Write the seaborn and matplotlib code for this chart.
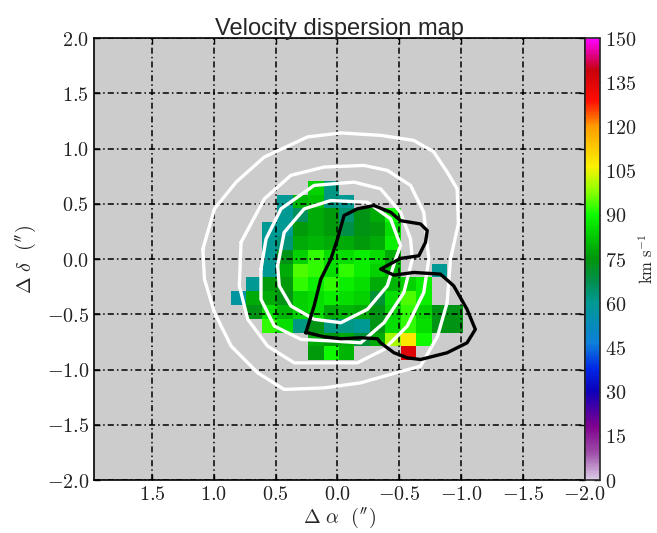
import numpy as np
import pandas as pd
import matplotlib
matplotlib.use("Agg")
import matplotlib.pyplot as plt
from matplotlib.colors import LinearSegmentedColormap
from matplotlib.ticker import FuncFormatter
import seaborn as sns

# Spaxel grid (arcsec offsets of pixel centres)
x_centers = [0.8, 0.675, 0.55, 0.425, 0.3, 0.175, 0.05, -0.075, -0.2,
             -0.325, -0.45, -0.575, -0.7, -0.825, -0.95]
y_centers = [0.647, 0.522, 0.397, 0.272, 0.147, 0.022, -0.103, -0.228,
             -0.353, -0.478, -0.603, -0.728, -0.853]
pixel_size = 0.125

n = np.nan
# Velocity dispersion per spaxel (km/s), rows top -> bottom, columns left -> right
sigma_rows = [
    [n,  n,  n,  n,  n,  84, 62, n,  n,  n,  n,   n,   n,  n,  n],
    [n,  n,  n,  60, 80, 82, 62, 60, n,  n,  n,   n,   n,  n,  n],
    [n,  n,  n,  60, 66, 78, 76, 64, 74, 78, 90,  n,   n,  n,  n],
    [n,  n,  60, 60, 76, 78, 76, 68, 74, 76, 86,  n,   n,  n,  n],
    [n,  n,  60, 63, 78, 80, 78, 78, 76, 78, 88,  n,   n,  n,  n],
    [n,  n,  60, 74, 84, 92, 86, 86, 88, 86, 78,  n,   n,  n,  n],
    [n,  n,  60, 78, 94, 92, 86, 92, 88, 84, 80,  n,   n,  60, n],
    [n,  60, 76, 76, 92, 88, 92, 88, 86, 78, 80,  84,  88, n,  n],
    [58, 78, 78, 74, 84, 86, 88, 86, 84, 70, 86,  94,  88, n,  n],
    [n,  74, 86, 80, 84, 86, 78, 80, 78, 74, 84,  92,  84, 74, 74],
    [n,  n,  92, 86, 62, 74, 62, 62, 60, 74, 86,  92,  86, 74, 74],
    [n,  n,  n,  n,  n,  78, 76, 78, 70, 78, 100, 108, 90, n,  n],
    [n,  n,  n,  n,  n,  76, 90, 80, n,  n,  n,   135, n,  n,  n],
]

# Flux contours (white) and the second component (black), arcsec
flux_outer_x = [1.089, 1.076, 0.995, 0.860, 0.645, 0.431, 0.108, -0.188, -0.51, -0.671,
                -0.809, -0.887, -0.914, -0.978, -0.968, -0.887, -0.777, -0.615, -0.349,
                -0.027, 0.242, 0.592, 0.82, 0.995, 1.089]
flux_outer_y = [0.091, -0.182, -0.485, -0.788, -1.03, -1.18, -1.166, -1.12, -1.018, -0.97,
                -0.70, -0.394, 0.0, 0.318, 0.636, 0.788, 0.973, 1.075, 1.12,
                1.142, 1.106, 0.924, 0.697, 0.455, 0.091]

flux_mid_x = [0.78, 0.794, 0.726, 0.565, 0.35, 0.081, -0.161, -0.376, -0.565, -0.698,
              -0.739, -0.698, -0.591, -0.403, -0.215, 0.108, 0.377, 0.592, 0.78]
flux_mid_y = [0.152, -0.242, -0.545, -0.788, -0.939, -0.939, -0.939, -0.818, -0.606, -0.303,
              0.0, 0.424, 0.667, 0.803, 0.848, 0.833, 0.758, 0.545, 0.152]

flux_inner_x = [0.619, 0.619, 0.511, 0.296, 0.027, -0.188, -0.376, -0.537, -0.605,
                -0.591, -0.51, -0.349, -0.134, 0.189, 0.457, 0.578, 0.619]
flux_inner_y = [-0.091, -0.364, -0.606, -0.727, -0.742, -0.758, -0.576, -0.303, 0.0,
                0.182, 0.424, 0.636, 0.697, 0.667, 0.455, 0.182, -0.091]

flux_core_x = [0.484, 0.471, 0.377, 0.189, -0.027, -0.242, -0.403, -0.47, -0.51,
               -0.43, -0.242, 0.054, 0.269, 0.431, 0.484]
flux_core_y = [-0.061, -0.242, -0.424, -0.545, -0.576, -0.455, -0.242, 0.0, 0.121,
               0.364, 0.515, 0.530, 0.455, 0.242, -0.061]

second_x = [0.256, 0.189, 0.135, 0.054, 0.0, -0.053, -0.161, -0.295, -0.43, -0.51,
            -0.672, -0.726, -0.712, -0.658, -0.51, -0.349, -0.457, -0.618, -0.833,
            -0.94, -1.048, -1.115, -1.048, -0.887, -0.672, -0.565, -0.457, -0.349,
            -0.323, -0.188, -0.027, 0.108, 0.242, 0.256]
second_y = [-0.667, -0.424, -0.182, 0.0, 0.182, 0.394, 0.455, 0.485, 0.424, 0.348,
            0.318, 0.258, 0.152, 0.03, 0.006, -0.091, -0.145, -0.121, -0.136,
            -0.242, -0.455, -0.636, -0.758, -0.848, -0.909, -0.894, -0.848, -0.758,
            -0.721, -0.712, -0.721, -0.703, -0.667, -0.667]

x_ticks = [1.5, 1.0, 0.5, 0.0, -0.5, -1.0, -1.5, -2.0]
y_ticks = [-2.0, -1.5, -1.0, -0.5, 0.0, 0.5, 1.0, 1.5, 2.0]
cbar_ticks = [0, 15, 30, 45, 60, 75, 90, 105, 120, 135, 150]

sns.set_style("ticks")
plt.rcParams["font.family"] = ["Liberation Sans", "DejaVu Sans"]
plt.rcParams["mathtext.fontset"] = "cm"

cmap = LinearSegmentedColormap.from_list("sigma", [
    (0.00, (0.86, 0.80, 0.90)),
    (0.06, (0.62, 0.30, 0.66)),
    (0.12, (0.50, 0.00, 0.56)),
    (0.20, (0.05, 0.00, 0.72)),
    (0.25, (0.00, 0.15, 0.90)),
    (0.31, (0.05, 0.50, 0.85)),
    (0.40, (0.00, 0.60, 0.58)),
    (0.45, (0.00, 0.56, 0.30)),
    (0.50, (0.00, 0.58, 0.05)),
    (0.55, (0.00, 0.78, 0.00)),
    (0.60, (0.05, 0.98, 0.00)),
    (0.66, (0.60, 1.00, 0.00)),
    (0.71, (0.98, 0.95, 0.00)),
    (0.80, (1.00, 0.62, 0.00)),
    (0.86, (1.00, 0.05, 0.00)),
    (0.93, (0.78, 0.00, 0.05)),
    (0.97, (0.90, 0.00, 0.60)),
    (1.00, (1.00, 0.00, 1.00)),
])

fig = plt.figure(figsize=(6.57, 5.33), dpi=100)
ax = fig.add_axes([0.143, 0.0994, 0.747, 0.829])
cax = fig.add_axes([0.890, 0.0994, 0.023, 0.829])

ax.set_facecolor("#cccccc")

xc = np.array(x_centers)
yc = np.array(y_centers)
x_edges = np.concatenate([xc + pixel_size / 2, [xc[-1] - pixel_size / 2]])
y_edges = np.concatenate([yc + pixel_size / 2, [yc[-1] - pixel_size / 2]])
sigma = np.ma.masked_invalid(np.array(sigma_rows, dtype=float))
mesh = ax.pcolormesh(x_edges, y_edges, sigma, cmap=cmap, vmin=0, vmax=150,
                     shading="flat", zorder=1)

contours = [
    (flux_outer_x, flux_outer_y, "white"),
    (flux_mid_x, flux_mid_y, "white"),
    (flux_inner_x, flux_inner_y, "white"),
    (flux_core_x, flux_core_y, "white"),
    (second_x, second_y, "black"),
]
for cx, cy, col in contours:
    df = pd.DataFrame({"x": cx, "y": cy})
    sns.lineplot(data=df, x="x", y="y", sort=False, estimator=None, color=col,
                 linewidth=2.4, ax=ax, zorder=3)

ax.set_xlim(1.97, -2.0)
ax.set_ylim(-2.0, 2.0)
ax.set_xticks(x_ticks)
ax.set_yticks(y_ticks)
fmt = FuncFormatter(lambda v, _: r"$%.1f$" % v)
ax.xaxis.set_major_formatter(fmt)
ax.yaxis.set_major_formatter(fmt)
ax.tick_params(direction="in", length=4, width=1, colors="black", labelsize=14.5,
               top=True, right=True, labelcolor="#222222")
ax.grid(True, color="black", linestyle=(0, (4, 2, 1, 2)), linewidth=1.1, zorder=2)
ax.set_axisbelow(False)
for s in ax.spines.values():
    s.set_linewidth(1.2)
    s.set_color("black")

ax.set_xlabel(r"$\Delta\ \alpha\ \ (^{\prime\prime})$", fontsize=14.5, labelpad=1)
ax.set_ylabel(r"$\Delta\ \delta\ \ (^{\prime\prime})$", fontsize=14.5, labelpad=6)
ax.set_title("Velocity dispersion map", fontsize=17, pad=2)

cb = fig.colorbar(mesh, cax=cax, ticks=cbar_ticks)
cb.ax.tick_params(direction="in", length=4, width=1, labelsize=14.5, labelcolor="#222222")
cb.ax.yaxis.set_major_formatter(FuncFormatter(lambda v, _: r"$%d$" % v))
cb.outline.set_linewidth(1.2)
cb.set_label(r"$\mathrm{km\ s^{-1}}$", fontsize=12, rotation=90)
cb.ax.yaxis.set_label_coords(3.45, 0.5)

fig.savefig("out.png", dpi=100)
